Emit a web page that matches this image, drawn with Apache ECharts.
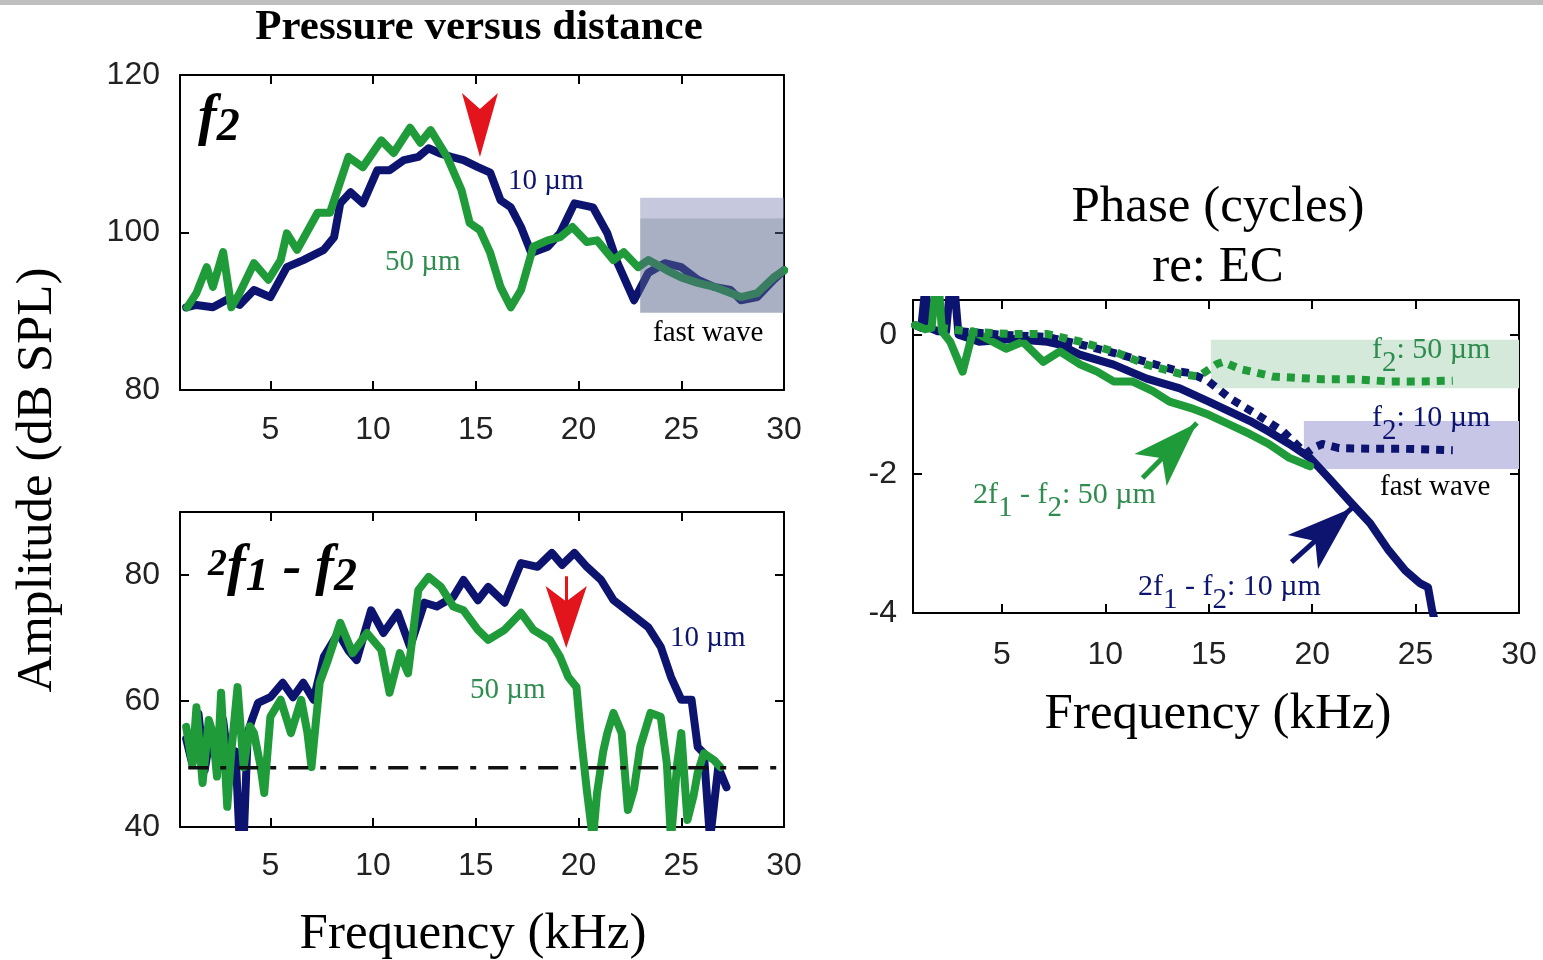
<!DOCTYPE html>
<html><head><meta charset="utf-8">
<script src="https://cdn.jsdelivr.net/npm/echarts@6/dist/echarts.min.js"></script>
<style>html,body{margin:0;padding:0;background:#fff;}#chart{width:1543px;height:960px;}</style>
</head><body><div id="chart"></div>
<script>
// ---------------- data ----------------
const xTickValues = [5, 10, 15, 20, 25, 30];
const f2TickValues = [80, 100, 120];
const dpTickValues = [40, 60, 80];
const phaseTickValues = [-4, -2, 0];

// f2 amplitude (dB SPL)
const f2Freq10 = [0.9,1.4,2.2,2.9,3.5,4.2,5.0,5.8,6.6,7.6,8.1,8.4,8.9,9.5,10.2,10.8,11.5,12.2,12.7,13.3,13.8,14.4,15.1,15.7,16.2,16.7,17.2,17.7,18.5,19.1,19.8,20.7,21.4,21.9,22.7,23.4,24.2,25.0,25.8,26.6,27.4,27.9,28.7,29.5,30.0];
const f2Amp10  = [90.5,90.8,90.5,91.5,90.8,92.7,91.8,95.6,96.5,97.8,99.4,103.7,105.1,103.7,107.9,107.9,109.2,109.6,110.7,110.0,109.6,109.2,108.3,107.6,104.1,103.2,100.7,97.4,98.2,99.9,103.7,103.2,99.9,96.1,91.4,94.9,96.1,95.6,94.0,93.1,92.7,91.4,91.8,94.0,95.2];
const f2Freq50 = [0.95,1.4,1.9,2.2,2.7,3.1,3.5,4.2,4.9,5.5,5.8,6.3,7.3,7.9,8.8,9.5,10.4,11.0,11.8,12.3,12.8,13.6,14.3,14.7,15.2,15.7,16.2,16.7,17.2,17.8,18.5,19.1,19.7,20.4,20.9,21.7,22.2,22.9,23.4,24.3,25.0,25.8,26.6,27.3,27.9,28.7,29.5,30.0];
const f2Amp50  = [90.5,92.3,95.6,93.1,97.5,90.5,92.3,96.1,94.0,96.5,99.9,97.8,102.5,102.5,109.6,108.3,111.7,110.1,113.3,111.4,113.0,109.6,105.4,101.2,100.3,97.4,93.1,90.5,92.7,98.2,99.0,99.4,100.7,98.8,99.0,96.5,97.5,95.6,96.5,95.2,94.3,93.6,93.1,92.4,91.8,92.3,94.3,95.2];

// 2f1-f2 amplitude (dB SPL)
const dpFreq10 = [0.9,1.2,1.5,1.8,2.1,2.4,2.7,3.0,3.3,3.5,3.7,3.9,4.1,4.4,5.0,5.6,6.1,6.6,7.1,7.6,8.3,8.8,9.2,9.9,10.5,11.2,11.8,12.5,13.1,13.9,14.4,15.1,15.6,16.4,17.2,18.0,18.7,19.2,19.8,20.4,21.1,21.7,22.5,23.4,24.0,24.5,25.0,25.5,25.8,26.1,26.4,26.8,27.2];
const dpAmp10  = [54,50,58,49,55,50,57,49,52,38,38,55,57,59.7,60.6,62.9,60.6,62.9,60.2,67.0,70.8,68.0,66.5,74.4,70.8,74.0,68.6,75.6,75.0,76.5,79.2,76.0,78.1,75.6,81.9,81.3,83.5,81.6,83.5,81.3,79.2,76.0,74.0,71.7,68.6,63.8,60.2,60.2,52.7,51.7,38,49.5,46.3];
const dpFreq50 = [0.9,1.2,1.4,1.7,2.0,2.2,2.4,2.6,2.9,3.1,3.4,3.7,4.0,4.2,4.5,4.7,5.0,5.5,6.0,6.5,6.8,7.0,7.4,7.8,8.4,9.0,9.7,10.4,10.8,11.3,11.7,12.2,12.7,13.3,13.9,14.4,15.1,15.6,16.4,17.2,17.8,18.6,19.1,19.5,19.9,20.1,20.4,20.7,20.9,21.2,21.4,21.7,22.1,22.4,22.7,23.0,23.5,24.0,24.3,24.5,24.8,25.0,25.3,25.6,25.8,26.1,26.6,26.9];
const dpAmp50  = [55.9,50,59.0,47.0,57,54.9,48,61.3,43.2,52,62.2,49.5,56,54.9,50,45.4,57.5,60.2,54.9,60.2,55,49.5,62.9,66.5,72.4,67.6,70.8,68.1,61.3,67.6,64.4,77.6,79.7,78.1,75.0,74.4,71.3,69.7,71.3,74.0,71.3,69.7,67.0,63.8,62.2,54.9,45.9,38,45.4,52,54.9,58.1,54.9,42.7,46,52.7,58.1,57.5,50,38,50,54.9,41.1,45,48.6,51.7,50.6,49.5];
const noiseFloorFreq = [1.0, 30];
const noiseFloorAmp = [49.4, 49.4];

// Phase (cycles re: EC)
const phFreqDp10 = [0.8,1.1,1.3,1.5,1.9,2.3,2.5,2.7,2.9,3.9,5.5,7.2,7.8,8.8,10.4,12.0,13.6,15.0,16.0,17.0,17.9,18.9,19.9,20.8,21.8,22.8,23.7,24.5,25.2,25.6,25.8,26.0];
const phDp10     = [0.14,0.1,0.7,0.1,0.05,0.05,0.7,0.7,0.0,-0.1,-0.06,-0.1,-0.14,-0.29,-0.43,-0.63,-0.77,-0.96,-1.1,-1.24,-1.39,-1.57,-1.77,-2.06,-2.39,-2.71,-3.1,-3.39,-3.57,-3.63,-3.96,-4.2];
const phFreqDp50 = [0.8,1.3,1.6,1.8,1.95,2.1,2.5,3.1,3.6,4.3,5.2,6.0,7.0,7.8,8.8,9.6,10.4,11.3,12.3,13.1,14.1,15.0,16.0,17.0,17.9,18.9,19.9];
const phDp50     = [0.14,0.08,0.1,0.7,0.7,0.05,-0.1,-0.53,0.05,-0.06,-0.2,-0.1,-0.39,-0.24,-0.43,-0.53,-0.67,-0.67,-0.81,-0.96,-1.05,-1.15,-1.29,-1.43,-1.57,-1.77,-1.89];
const phFreqF2_10 = [3.0,5.0,7.2,8.8,10.4,12.0,13.6,14.1,15.0,16.0,17.3,18.6,19.7,20.1,20.5,21.3,22.9,24.5,26.8];
const phF2_10     = [0.05,0.0,-0.03,-0.14,-0.26,-0.39,-0.53,-0.55,-0.67,-0.91,-1.14,-1.39,-1.71,-1.62,-1.57,-1.63,-1.64,-1.64,-1.66];
const phFreqF2_50 = [2.0,3.6,5.5,7.2,8.8,10.4,12.0,13.6,14.5,15.0,15.4,15.7,16.5,18.1,20.5,22.1,23.7,25.3,26.8];
const phF2_50     = [0.1,0.04,0.01,0.01,-0.1,-0.24,-0.43,-0.56,-0.6,-0.5,-0.42,-0.39,-0.49,-0.6,-0.64,-0.64,-0.67,-0.67,-0.66];

// shaded "fast wave" regions: [x0, x1, y0, y1]
const f2FastWaveBands = [[23.0, 30, 101.8, 104.4], [23.0, 30, 89.8, 101.8]];
const phaseBands = [[15.1, 30, -0.77, -0.07], [19.6, 30, -1.93, -1.24]];

// annotation arrows (data coordinates of the arrow tips / stems)
const f2PeakArrow = [15.2, 109.6];
const dpPeakArrow = [19.4, 68.4];
const dpPeakStem = [[19.4, 79.8], [19.4, 75.5]];
const phArrow50 = [[11.8, -2.06], [14.43, -1.27]];
const phArrow10 = [[19.0, -3.27], [21.93, -2.49]];

// ---------------- styles ----------------
const NAVY = '#0c1470', GREEN = '#1f9b3a', RED = '#e3141c';
const GREEN_TXT = '#2f8c4f';
const SERIF = "'Liberation Serif','DejaVu Serif',serif";
const SANS = "'Liberation Sans','DejaVu Sans',sans-serif";
const LW = 8;

const zip = (xs, ys) => xs.map((x, i) => [x, ys[i]]);

function xAxisPair(grid, min, margin) {
  const line = {show: true, onZero: false, lineStyle: {color: '#000', width: 2}};
  const tick = {show: true, inside: true, length: 9, customValues: xTickValues, lineStyle: {color: '#000', width: 2}};
  return [
    {gridIndex: grid, type: 'value', position: 'bottom', min: min, max: 30,
     axisLine: line, axisTick: tick, splitLine: {show: false},
     axisLabel: {customValues: xTickValues, margin: margin, fontSize: 32, fontFamily: SANS, color: '#222'}},
    {gridIndex: grid, type: 'value', position: 'top', min: min, max: 30,
     axisLine: line, axisTick: tick, splitLine: {show: false}, axisLabel: {show: false}}
  ];
}
function yAxisPair(grid, min, max, ticks, margin) {
  const line = {show: true, onZero: false, lineStyle: {color: '#000', width: 2}};
  const tick = {show: true, inside: true, length: 9, customValues: ticks, lineStyle: {color: '#000', width: 2}};
  return [
    {gridIndex: grid, type: 'value', position: 'left', min: min, max: max,
     axisLine: line, axisTick: tick, splitLine: {show: false},
     axisLabel: {customValues: ticks, margin: margin, fontSize: 32, fontFamily: SANS, color: '#222'}},
    {gridIndex: grid, type: 'value', position: 'right', min: min, max: max,
     axisLine: line, axisTick: tick, splitLine: {show: false}, axisLabel: {show: false}}
  ];
}

function bandSeries(xi, yi, data, colors, opac, z) {
  return {
    type: 'custom', xAxisIndex: xi, yAxisIndex: yi, z: z, silent: true, clip: true,
    encode: {x: [0, 1], y: [2, 3]}, data: data,
    renderItem: function (params, api) {
      const i = params.dataIndex;
      const p0 = api.coord([api.value(0), api.value(3)]);
      const p1 = api.coord([api.value(1), api.value(2)]);
      return {type: 'rect', shape: {x: p0[0], y: p0[1], width: p1[0] - p0[0], height: p1[1] - p0[1]},
              style: {fill: colors[i], opacity: opac[i]}};
    }
  };
}
function lineSeries(xi, yi, data, color, width, dash, extra) {
  return Object.assign({
    type: 'line', xAxisIndex: xi, yAxisIndex: yi, data: data, showSymbol: false, symbol: 'none',
    clip: true, silent: true,
    lineStyle: {color: color, width: width, type: dash || 'solid', cap: dash ? 'butt' : 'round', join: 'round'}
  }, extra || {});
}

function txt(x, y, text, opts) {
  return {type: 'text', x: x, y: y, z: 100, silent: true,
    style: Object.assign({text: text, fontFamily: SERIF, fontSize: 29, fill: '#000', align: 'left', verticalAlign: 'middle'}, opts || {})};
}
function subRich(color, size, sub, drop) {
  return {
    t: {fontFamily: SERIF, fontSize: size, fill: color},
    s: {fontFamily: SERIF, fontSize: sub, fill: color, padding: [drop, 0, 0, 0]}
  };
}
const bi = {fontFamily: SERIF, fontWeight: 'bold', fontStyle: 'italic', fill: '#000'};

const option = {
  backgroundColor: '#ffffff',
  animation: false,
  grid: [
    {left: 180, top: 75, width: 604, height: 315},
    {left: 180, top: 512, width: 604, height: 315},
    {left: 913, top: 300, width: 606, height: 313}
  ],
  xAxis: [].concat(xAxisPair(0, 0.6, 24), xAxisPair(1, 0.6, 23), xAxisPair(2, 0.7, 26)),
  yAxis: [].concat(yAxisPair(0, 80, 120, f2TickValues, 20), yAxisPair(1, 40, 90, dpTickValues, 20), yAxisPair(2, -4, 0.5, phaseTickValues, 16)),
  series: [
    // ---- f2 panel ----
    lineSeries(0, 0, zip(f2Freq10, f2Amp10), NAVY, LW),
    lineSeries(0, 0, zip(f2Freq50, f2Amp50), GREEN, LW, null, {
      markPoint: {silent: true, label: {show: false},
        data: [{coord: f2PeakArrow, symbol: 'arrow', symbolSize: [27, 64], symbolRotate: 180, itemStyle: {color: RED}}]}
    }),
    bandSeries(0, 0, f2FastWaveBands, ['rgb(141,145,189)', 'rgb(85,97,137)'], [0.5, 0.5], 4),
    // ---- 2f1-f2 panel ----
    lineSeries(2, 2, zip(dpFreq10, dpAmp10), NAVY, LW),
    lineSeries(2, 2, zip(dpFreq50, dpAmp50), GREEN, LW, null, {
      markPoint: {silent: true, label: {show: false},
        data: [{coord: dpPeakArrow, symbol: 'arrow', symbolSize: [31, 62], symbolRotate: 180, itemStyle: {color: RED}}]},
      markLine: {silent: true, symbol: ['none', 'none'], label: {show: false},
        lineStyle: {color: RED, width: 3, type: 'solid'},
        data: [[{coord: dpPeakStem[0]}, {coord: dpPeakStem[1]}]]}
    }),
    lineSeries(2, 2, zip(noiseFloorFreq, noiseFloorAmp), '#111', 3.5, [20, 12, 6, 12], {z: 4}),
    // ---- phase panel ----
    bandSeries(4, 4, phaseBands, ['#d4e9da', '#c7c6e6'], [1, 1], 1),
    lineSeries(4, 4, zip(phFreqDp10, phDp10), NAVY, LW, null, {
      markLine: {silent: true, symbol: ['none', 'arrow'], symbolSize: [34, 66], label: {show: false},
        lineStyle: {color: NAVY, width: 5, type: 'solid'},
        data: [[{coord: phArrow10[0]}, {coord: phArrow10[1]}]]}
    }),
    lineSeries(4, 4, zip(phFreqDp50, phDp50), GREEN, LW, null, {
      markLine: {silent: true, symbol: ['none', 'arrow'], symbolSize: [34, 66], label: {show: false},
        lineStyle: {color: GREEN, width: 5, type: 'solid'},
        data: [[{coord: phArrow50[0]}, {coord: phArrow50[1]}]]}
    }),
    lineSeries(4, 4, zip(phFreqF2_10, phF2_10), NAVY, 8, [8, 7]),
    lineSeries(4, 4, zip(phFreqF2_50, phF2_50), GREEN, 8, [8, 7])
  ],
  graphic: [
    {type: 'rect', z: 100, silent: true, shape: {x: 0, y: 0, width: 1543, height: 5}, style: {fill: '#bfbfbf'}},
    txt(479, 28, 'Pressure versus distance', {fontSize: 43, fontWeight: 'bold', align: 'center'}),
    {type: 'text', x: 38, y: 480, rotation: Math.PI / 2, z: 100, silent: true,
     style: {text: 'Amplitude (dB SPL)', fontFamily: SERIF, fontSize: 51, fill: '#000', align: 'center', verticalAlign: 'middle'}},
    txt(473, 935, 'Frequency (kHz)', {fontSize: 51, align: 'center'}),
    txt(1218, 715, 'Frequency (kHz)', {fontSize: 51, align: 'center'}),
    txt(1218, 208, 'Phase (cycles)', {fontSize: 51, align: 'center'}),
    txt(1218, 268, 're: EC', {fontSize: 51, align: 'center'}),
    // panel labels
    txt(198, 120, '{f|f}{s|2}', {rich: {
      f: Object.assign({fontSize: 56}, bi),
      s: Object.assign({fontSize: 46, padding: [16, 0, 0, 0]}, bi)}}),
    txt(208, 570, '{n|2}{f|f}{s|1}{f| - }{f|f}{s|2}', {rich: {
      n: Object.assign({fontSize: 38, padding: [0, 0, 10, 0]}, bi),
      f: Object.assign({fontSize: 56}, bi),
      s: Object.assign({fontSize: 46, padding: [16, 0, 0, 0]}, bi)}}),
    txt(508, 181, '10 µm', {fill: NAVY}),
    txt(385, 262, '50 µm', {fill: GREEN_TXT}),
    txt(653, 333, 'fast wave'),
    txt(670, 638, '10 µm', {fill: NAVY}),
    txt(470, 690, '50 µm', {fill: GREEN_TXT}),
    // phase panel labels
    txt(1372, 350, '{t|f}{s|2}{t|: 50 µm}', {rich: subRich(GREEN_TXT, 30, 29, 26)}),
    txt(1372, 418, '{t|f}{s|2}{t|: 10 µm}', {rich: subRich(NAVY, 30, 29, 26)}),
    txt(1380, 487, 'fast wave'),
    txt(973, 495, '{t|2f}{s|1}{t| - f}{s|2}{t|: 50 µm}', {rich: subRich(GREEN_TXT, 30, 29, 26)}),
    txt(1138, 587, '{t|2f}{s|1}{t| - f}{s|2}{t|: 10 µm}', {rich: subRich(NAVY, 30, 29, 26)})
  ]
};

const chart = echarts.init(document.getElementById('chart'), null, {renderer: 'canvas'});
chart.setOption(option);
</script></body></html>
